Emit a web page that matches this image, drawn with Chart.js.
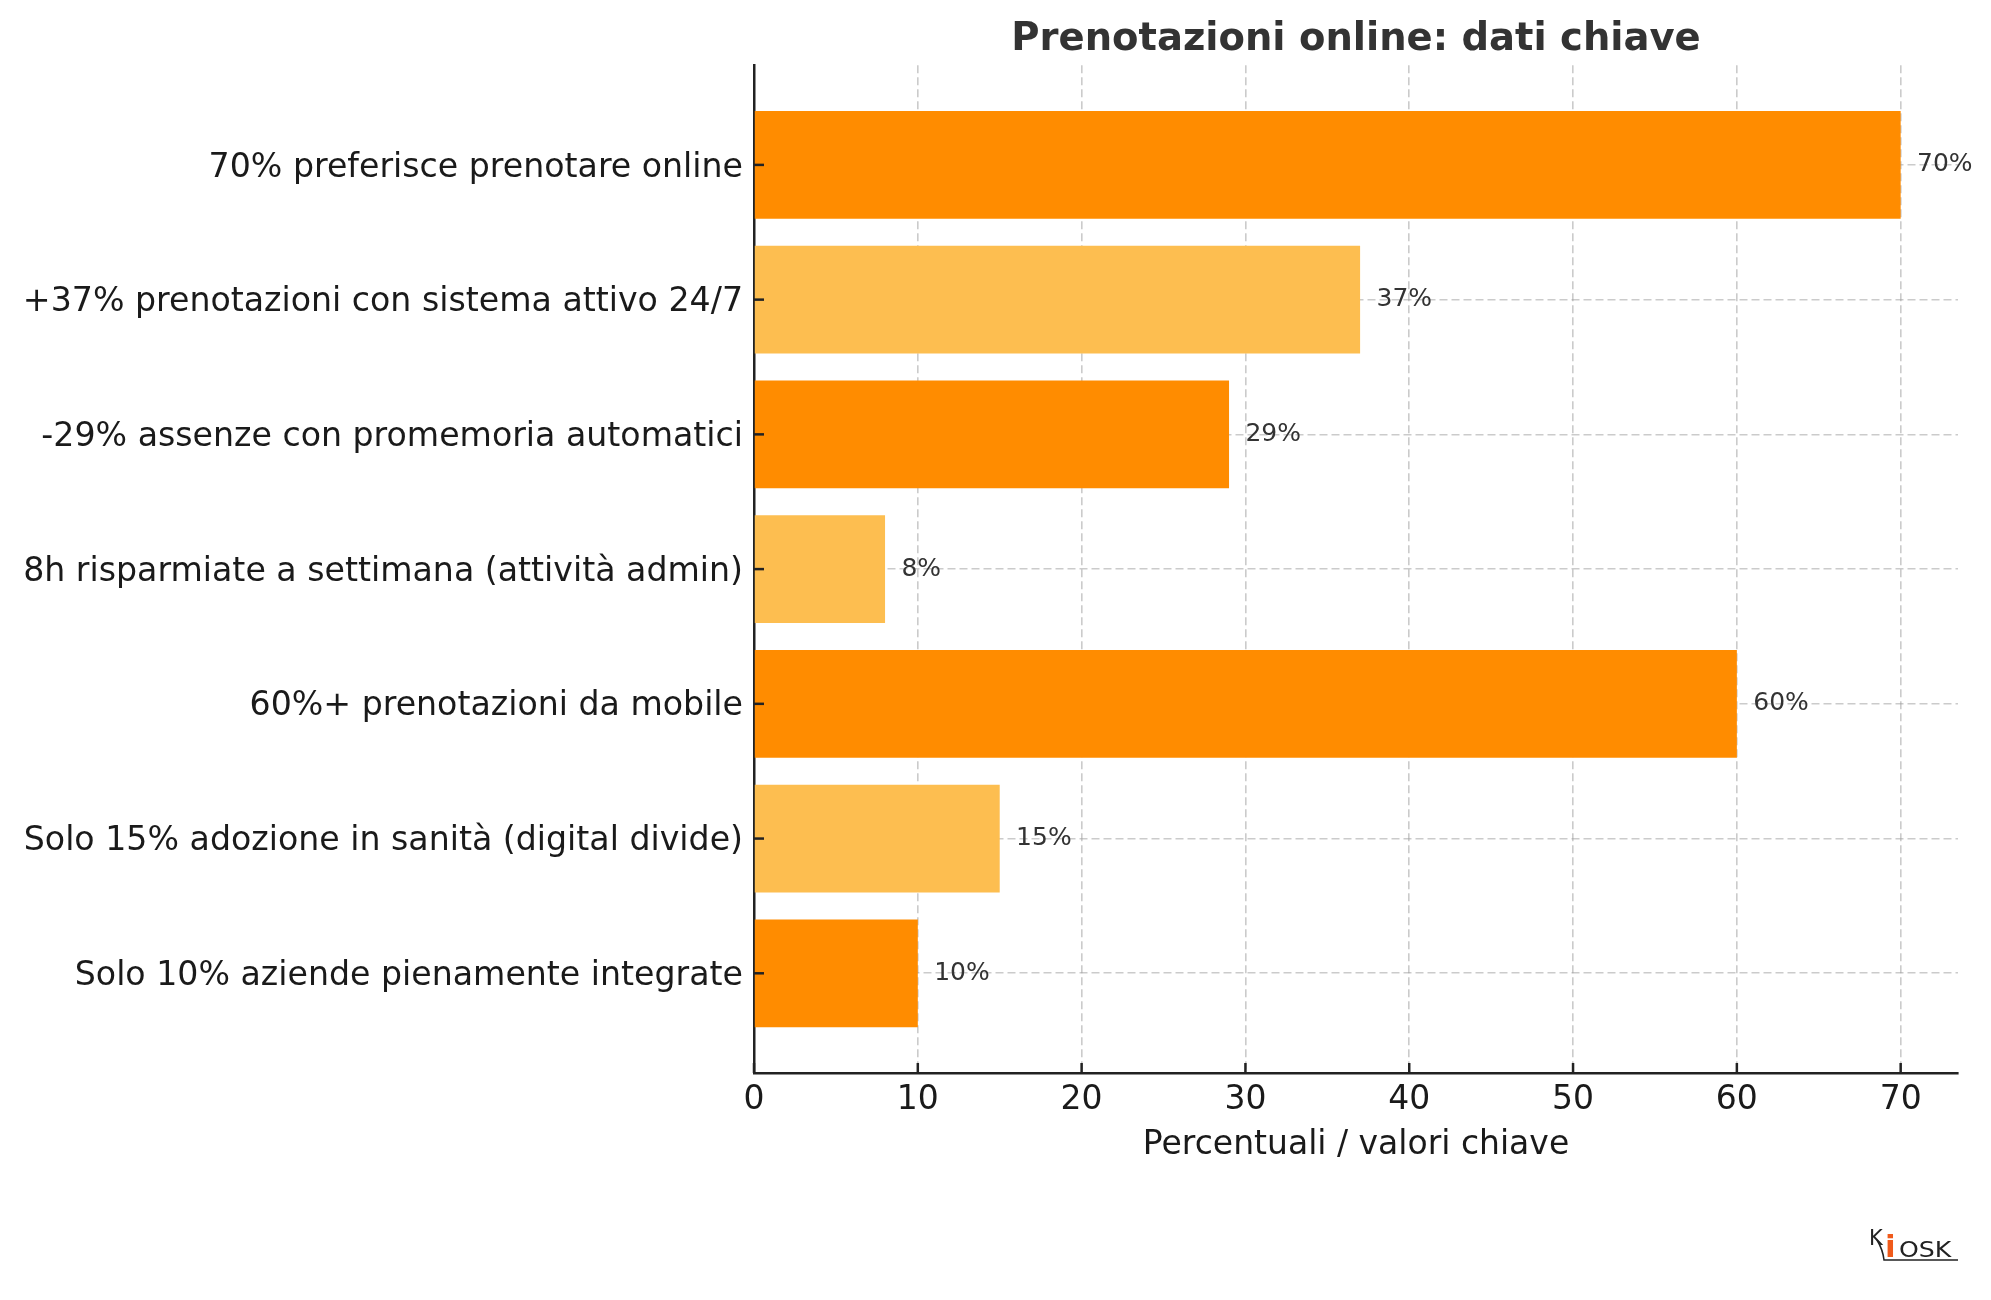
<!DOCTYPE html>
<html>
<head>
<meta charset="utf-8">
<script src="https://cdn.jsdelivr.net/npm/chart.js@4.4.0/dist/chart.umd.min.js"></script>
<style>
  html, body { margin: 0; padding: 0; background: #fff; }
  #wrap { width: 1991px; height: 1300px; position: relative; }
</style>
</head>
<body>
<div id="wrap"><canvas id="chart"></canvas></div>
<script>
// dati
const categories = [
    '70% preferisce prenotare online',
    '+37% prenotazioni con sistema attivo 24/7',
    '-29% assenze con promemoria automatici',
    '8h risparmiate a settimana (attività admin)',
    '60%+ prenotazioni da mobile',
    'Solo 15% adozione in sanità (digital divide)',
    'Solo 10% aziende pienamente integrate'
];
const values = [70, 37, 29, 8, 60, 15, 10];
const valueLabels = ['70%', '37%', '29%', '8%', '60%', '15%', '10%'];
const xTicks = [0, 10, 20, 30, 40, 50, 60, 70];

const DARK = '#FF8C00';
const LIGHT = '#FDBE50';
const FONT = "'DejaVu Sans', sans-serif";

// etichette dei valori a destra delle barre
const valueLabelPlugin = {
    id: 'valueLabels',
    afterDatasetsDraw(chart) {
        const ctx = chart.ctx;
        const meta = chart.getDatasetMeta(0);
        const xs = chart.scales.x;
        ctx.save();
        ctx.font = '25px ' + FONT;
        ctx.fillStyle = '#333333';
        ctx.textAlign = 'left';
        ctx.textBaseline = 'middle';
        meta.data.forEach((bar, i) => {
            const x = xs.getPixelForValue(values[i] + 1);
            ctx.fillText(valueLabels[i], x, bar.y);
        });
        ctx.restore();
    }
};

// tacche verso l'interno + logo
const extrasPlugin = {
    id: 'extras',
    afterDraw(chart) {
        const ctx = chart.ctx;
        const xs = chart.scales.x, ys = chart.scales.y;
        const area = chart.chartArea;
        ctx.save();
        ctx.strokeStyle = '#222222';
        ctx.lineWidth = 2.5;
        xTicks.forEach(v => {
            const x = xs.getPixelForValue(v);
            ctx.beginPath();
            ctx.moveTo(x, area.bottom);
            ctx.lineTo(x, area.bottom - 10);
            ctx.stroke();
        });
        categories.forEach((c, i) => {
            const y = ys.getPixelForValue(i);
            ctx.beginPath();
            ctx.moveTo(area.left, y);
            ctx.lineTo(area.left + 10, y);
            ctx.stroke();
        });

        // logo Kiosk
        ctx.textBaseline = 'alphabetic';
        ctx.textAlign = 'left';
        ctx.fillStyle = '#222222';
        ctx.font = '21px ' + FONT;
        ctx.fillText('K', 1869, 1245);
        ctx.fillStyle = '#F05A1A';
        ctx.font = 'bold 31px ' + FONT;
        ctx.fillText('i', 1885, 1257);
        ctx.fillStyle = '#222222';
        ctx.save();
        ctx.translate(1899, 1257);
        ctx.scale(1.2, 1);
        ctx.font = '21px ' + FONT;
        ctx.fillText('OSK', 0, 0);
        ctx.restore();
        ctx.lineWidth = 1.5;
        ctx.beginPath();
        ctx.moveTo(1877, 1240);
        ctx.quadraticCurveTo(1883, 1250, 1884, 1260);
        ctx.lineTo(1958, 1260);
        ctx.stroke();
        ctx.restore();
    }
};

new Chart(document.getElementById('chart'), {
    type: 'bar',
    data: {
        datasets: [{
            data: values.map((v, i) => ({ x: v, y: i })),
            backgroundColor: values.map((v, i) => i % 2 === 0 ? DARK : LIGHT),
            barPercentage: 0.8,
            categoryPercentage: 1.0
        }]
    },
    options: {
        indexAxis: 'y',
        responsive: true,
        maintainAspectRatio: false,
        animation: false,
        layout: { padding: { left: 0, right: 33, top: 0, bottom: 0 } },
        plugins: {
            legend: { display: false },
            tooltip: { enabled: false },
            title: {
                display: true,
                text: 'Prenotazioni online: dati chiave',
                fullSize: false,
                color: '#333333',
                font: { family: FONT, size: 38.5, weight: 'bold' },
                padding: { top: 17, bottom: 2 }
            }
        },
        scales: {
            x: {
                type: 'linear',
                min: 0,
                max: 73.5,
                z: 1,
                afterBuildTicks: (scale) => { scale.ticks = xTicks.map(v => ({ value: v })); },
                afterFit: (scale) => { scale.height = 227; },
                ticks: {
                    color: '#1a1a1a',
                    font: { family: FONT, size: 33 },
                    padding: 8,
                    maxRotation: 0
                },
                grid: { color: 'rgba(160,160,160,0.55)', lineWidth: 1.6, drawTicks: false },
                border: { display: true, color: '#222222', width: 2.5, dash: [8, 4] },
                title: {
                    display: true,
                    text: 'Percentuali / valori chiave',
                    color: '#1a1a1a',
                    font: { family: FONT, size: 33 },
                    padding: { top: 0, bottom: 135 }
                }
            },
            y: {
                type: 'linear',
                reverse: true,
                offset: false,
                min: -0.74,
                max: 6.74,
                z: 1,
                afterBuildTicks: (scale) => { scale.ticks = categories.map((c, i) => ({ value: i })); },
                afterFit: (scale) => { scale.width = 754; },
                ticks: {
                    color: '#1a1a1a',
                    font: { family: FONT, size: 33.2 },
                    padding: 11,
                    labelOffset: 3,
                    callback: (v) => categories[v]
                },
                grid: { offset: false, color: 'rgba(160,160,160,0.55)', lineWidth: 1.6, drawTicks: false },
                border: { display: true, color: '#222222', width: 2.5, dash: [8, 4] }
            }
        }
    },
    plugins: [valueLabelPlugin, extrasPlugin]
});
</script>
</body>
</html>
